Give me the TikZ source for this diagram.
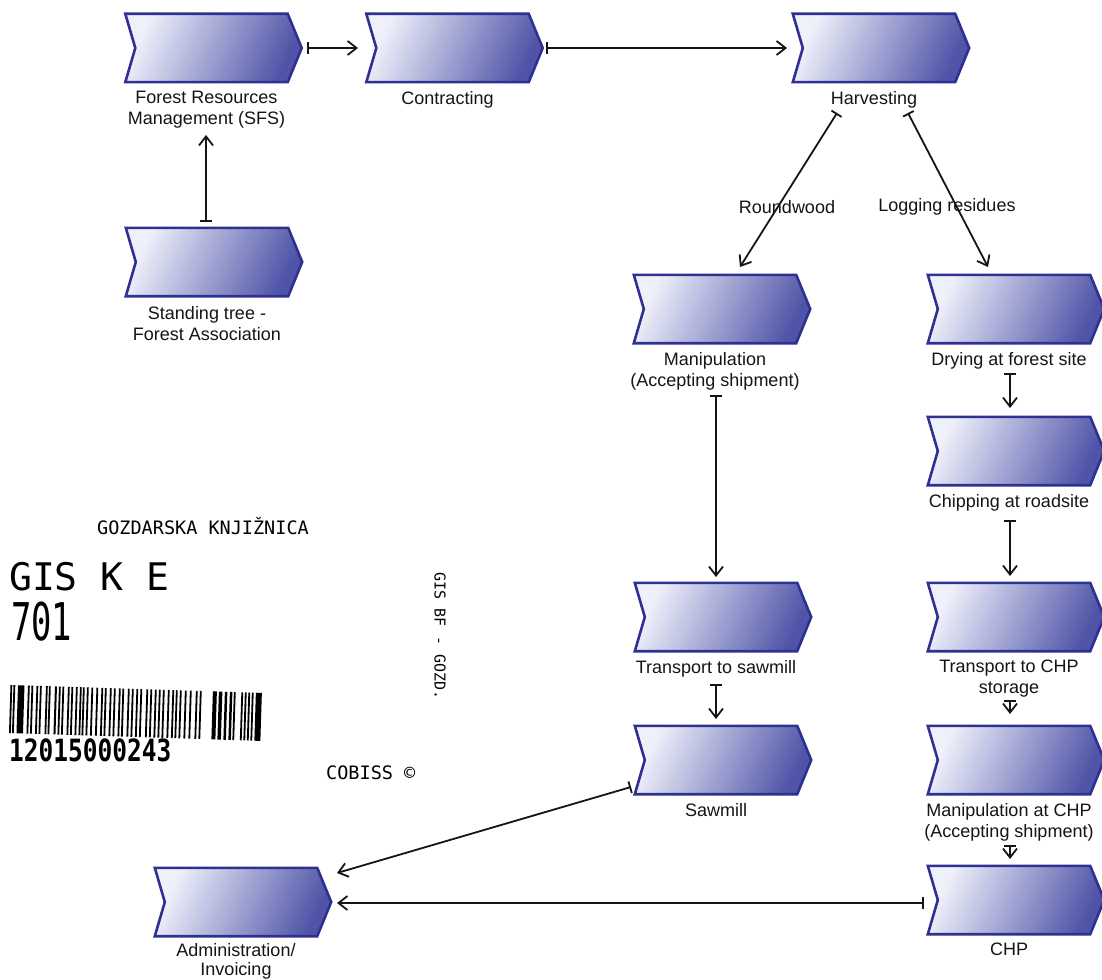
\documentclass[tikz,border=0pt]{standalone}
\usepackage{fontspec}
\setmainfont{Liberation Sans}
\newfontfamily\stampfont{DejaVu Sans Mono}
\usetikzlibrary{arrows.meta,calc,positioning}
\definecolor{chevborder}{HTML}{2E3192}
\definecolor{chevlight}{HTML}{EEF0FA}
\definecolor{chevdark}{HTML}{4F54A8}
\definecolor{inkcol}{HTML}{151515}
\begin{document}
\begin{tikzpicture}[x=1pt,y=-1pt,
  body/.style={rectangle, minimum width=162pt, minimum height=68pt, inner sep=0pt, draw=none},
  chev/.style={draw=chevborder, line width=2.6pt, line join=miter, left color=chevlight, right color=chevdark, shading angle=65},
  lab/.style={font=\fontsize{18}{21}\selectfont, align=center, inner sep=0pt, text=inkcol},
  conn/.style={draw=inkcol, line width=1.8pt, {Bar[width=12pt,line width=1.8pt]}-{Straight Barb[length=9pt,width=14pt,line width=1.8pt]}},
  stamp/.style={font=\stampfont, inner sep=0pt, text=black}
]
\useasboundingbox (0,0) rectangle (1102,979);
\fill[white] (0,0) rectangle (1102,979);

% process bodies
\node[body] (frm) at (206.5,48) {};
\node[body] (contr) at (447.5,48) {};
\node[body] (harv) at (874,48) {};
\node[body] (stand) at (207,262) {};
\node[body] (manip) at (715,309) {};
\node[body] (dry) at (1009,309) {};
\node[body] (chip) at (1009,451) {};
\node[body] (tchp) at (1009,617) {};
\node[body] (mchp) at (1009,760) {};
\node[body] (chp) at (1009,900) {};
\node[body] (tsaw) at (716,617) {};
\node[body] (saw) at (716,760) {};
\node[body] (admin) at (236,902) {};

\foreach \n in {frm,contr,harv,stand,manip,dry,chip,tchp,mchp,chp,tsaw,saw,admin}
  \path[chev] (\n.north west) -- (\n.north east) -- ([xshift=14pt]\n.east) -- (\n.south east) -- (\n.south west) -- ([xshift=10pt]\n.west) -- cycle;

% labels
\node[lab, below=9pt of frm] (frm-l) {Forest Resources\\Management (SFS)};
\node[lab, below=9pt of contr] (contr-l) {Contracting};
\node[lab, below=9pt of harv] (harv-l) {Harvesting};
\node[lab, below=10pt of stand] (stand-l) {Standing tree -\\Forest Association};
\node[lab, below=9pt of manip] (manip-l) {Manipulation\\(Accepting shipment)};
\node[lab, below=9pt of dry] (dry-l) {Drying at forest site};
\node[lab, below=9pt of chip] (chip-l) {Chipping at roadsite};
\node[lab, below=9pt of tchp] (tchp-l) {Transport to CHP\\storage};
\node[lab, below=9pt of mchp] (mchp-l) {Manipulation at CHP\\(Accepting shipment)};
\node[lab, below=9pt of chp] (chp-l) {CHP};
\node[lab, below=9pt of tsaw] (tsaw-l) {Transport to sawmill};
\node[lab, below=9pt of saw] (saw-l) {Sawmill};
\node[lab, below=7pt of admin, font=\fontsize{18}{19}\selectfont] (admin-l) {Administration/\\Invoicing};

\node[lab] (rw) at (787,207) {Roundwood};
\node[lab] (lr) at (947,207) {Logging residues};

% connectors
\draw[conn] ($(frm)+(100.5,0)$) -- ($(contr)+(-89.5,0)$);
\draw[conn] ($(contr)+(98.5,0)$) -- ($(harv)+(-87,0)$);
\draw[conn] ($(stand)+(-1,-40)$) -- ($(frm)+(-0.5,87)$);
\draw[conn] ($(harv)+(-37,65)$) -- ($(manip)+(25,-42)$);
\draw[conn] ($(harv)+(34,65)$) -- ($(dry)+(-21,-42)$);
\draw[conn] ($(manip)+(1,86)$) -- ($(tsaw)+(0,-40)$);
\draw[conn] ($(tsaw)+(0,67)$) -- ($(saw)+(0,-41)$);
\draw[conn] ($(dry)+(1,64)$) -- ($(chip)+(1,-43)$);
\draw[conn] ($(chip)+(1,69)$) -- ($(tchp)+(1,-41)$);
\draw[conn] ($(tchp)+(1,83)$) -- ($(mchp)+(1,-46)$);
\draw[conn] ($(mchp)+(1,85)$) -- ($(chp)+(1,-41)$);
\draw[conn] ($(saw)+(-85,27)$) -- ($(admin)+(101,-29)$);
\draw[conn] ($(chp)+(-85,3)$) -- ($(admin)+(101,1)$);

% library stamp
\node[stamp, font=\stampfont\fontsize{18.5}{20}\selectfont] (st1) at (203,526) {GOZDARSKA KNJIŽNICA};
\node[stamp, font=\stampfont\fontsize{38}{40}\selectfont, anchor=base west] (st2) at (9,590) {GIS K E};
\node[stamp, font=\stampfont\fontsize{52}{54}\selectfont, anchor=base west, xscale=0.65] (st3) at (11,640) {701};
\node[stamp, font=\stampfont\bfseries\fontsize{24.5}{26}\selectfont, anchor=base west, yscale=1.25] (st4) at (9,761) {12015000243};
\node[stamp, font=\stampfont\fontsize{18.5}{20}\selectfont, anchor=base west] (st5) at (326,779) {COBISS ©};
\node[stamp, font=\stampfont\fontsize{15}{16}\selectfont, rotate=-90] (st6) at (440,636) {GIS BF - GOZD.};
\begin{scope}[rotate around={-1.8:(10,685)}]
\foreach \bx/\bw in {10.5/1.8, 13.5/1.8, 18/6.5, 28/1.8, 31.5/1.8, 36.5/1.8, 40/1.8, 46/1.8, 49/1.8, 55/2, 59/1.8, 62.5/1.8, 68/1.8, 71.5/1.8, 76/1.8, 80/1.8, 83/1.8, 87/1.8, 91.5/1.8, 96.5/1.8, 101.5/1.8, 105/1.8, 110/1.8, 114/1.8, 119/1.8, 122.5/1.8, 128/1.8, 132/1.8, 136.5/1.8, 140.5/1.8, 146.5/1.8, 150.5/1.8, 155/1.8, 159/1.8, 163/1.8, 168/1.8, 172.5/1.8, 176/1.8, 180/1.8, 185/1.8, 190/1.8, 196/1.8, 200/1.8, 213/4, 219/3.5, 225/2.5, 230/2.5, 234/1.8, 241.5/1.8, 245/1.8, 248.5/1.8, 252/1.8, 256/6}
  \fill[black] (\bx,685) rectangle ++(\bw,48);
\end{scope}
\end{tikzpicture}
\end{document}
